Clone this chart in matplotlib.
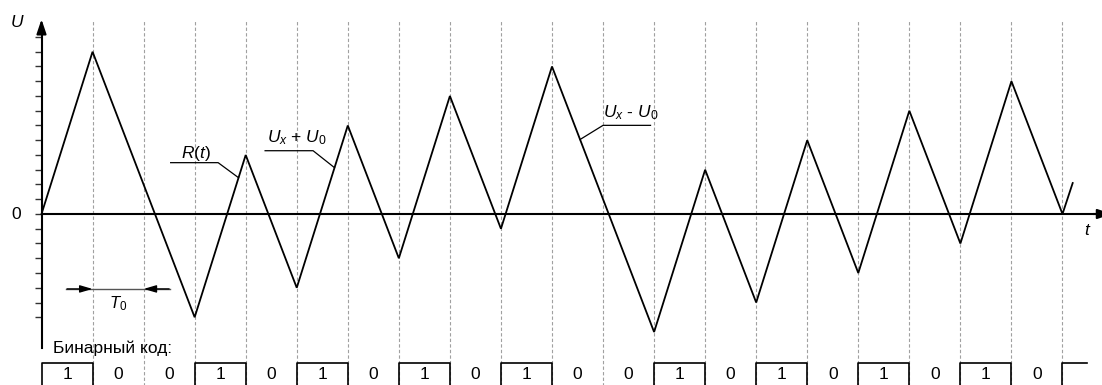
import matplotlib
matplotlib.use('Agg')
import matplotlib.pyplot as plt

plt.rcParams['font.family'] = ['Liberation Sans', 'DejaVu Sans']
plt.rcParams['mathtext.fontset'] = 'custom'
plt.rcParams['mathtext.rm'] = 'Liberation Sans'
plt.rcParams['mathtext.it'] = 'Liberation Sans:italic'

# vertices of R(t): time in T0 units, voltage in tick units
t_pts = [0, 1, 3, 4, 5, 6, 7, 8, 9, 10, 12, 13, 14, 15, 16, 17, 18, 19, 20, 20.2]
u_pts = [0, 11, -7, 4, -5, 6, -3, 8, -1, 10, -8, 3, -6, 5, -4, 7, -2, 9, 0, 2.1]

# binary code, one bit per T0 interval
bits = [1, 0, 0, 1, 0, 1, 0, 1, 0, 1, 0, 0, 1, 0, 1, 0, 1, 0, 1, 0]
tail_end = 20.48          # start of the next "1" box, cut off at the right

grid_t = list(range(1, 21))
y_ticks = list(range(-7, 13))

fig = plt.figure(figsize=(11.02, 3.85), dpi=100)
ax = fig.add_axes([0, 0, 1, 1])
ax.set_xlim(-0.813, 20.774)
ax.set_ylim(-11.593, 14.508)

# dashed clock lines
ax.vlines(grid_t, -11.7, 13.1, colors='#a0a0a0', linestyles=(0, (3, 2)), lw=0.8)

# signal
ax.plot(t_pts, u_pts, color='black', lw=1.3, solid_joinstyle='miter')

# axes through the origin
for s in ['top', 'right']:
    ax.spines[s].set_visible(False)
ax.spines['left'].set_position(('data', 0))
ax.spines['left'].set_bounds(-9.1, 12.6)
ax.spines['bottom'].set_position(('data', 0))
ax.spines['bottom'].set_bounds(0, 20.75)
ax.spines['left'].set_linewidth(1.5)
ax.spines['bottom'].set_linewidth(1.5)
ax.set_xticks([])
ax.set_yticks(y_ticks)
ax.tick_params(axis='y', direction='out', length=5, width=1.0, color='#333333', labelleft=False)

arrow = dict(arrowstyle='-|>,head_length=0.86,head_width=0.29', color='black', lw=1.5,
             shrinkA=0, shrinkB=0)
ax.annotate('', xy=(0, 13.2), xytext=(0, 12.4), arrowprops=arrow)
ax.annotate('', xy=(20.97, 0), xytext=(20.6, 0), arrowprops=arrow, annotation_clip=False)

ax.text(-0.48, 12.68, 'U', fontsize=12.5, fontstyle='italic', ha='center', va='baseline')
ax.text(-0.49, -0.37, '0', fontsize=12.5, ha='center', va='baseline')
ax.text(20.48, -1.42, 't', fontsize=12.5, fontstyle='italic', ha='center', va='baseline')

# T0 marker
ax.plot([0.48, 2.52], [-5.08, -5.08], color='#555555', lw=1.0)
small = dict(arrowstyle='-|>,head_length=0.75,head_width=0.22', color='black', lw=1.0,
             shrinkA=0, shrinkB=0)
ax.annotate('', xy=(1, -5.08), xytext=(0.5, -5.08), arrowprops=small)
ax.annotate('', xy=(2, -5.08), xytext=(2.5, -5.08), arrowprops=small)
ax.text(1.5, -6.37, r'$T_0$', fontsize=12, ha='center', va='baseline')

# leader lines and labels
ax.plot([2.53, 3.46, 3.86], [3.48, 3.48, 2.46], color='black', lw=0.9)
ax.text(2.73, 3.83, r'$R(t)$', fontsize=12.5, ha='left', va='baseline')
ax.plot([4.38, 5.32, 5.74], [4.29, 4.29, 3.14], color='black', lw=0.9)
ax.text(4.41, 4.83, r'$U_x$ + $U_0$', fontsize=12.5, ha='left', va='baseline')
ax.plot([11.93, 11.0, 10.55], [6.01, 6.01, 5.05], color='black', lw=0.9)
ax.text(11.0, 6.53, r'$U_x$ - $U_0$', fontsize=12.5, ha='left', va='baseline')

# binary code row
ax.text(0.225, -9.44, 'Бинарный код:', fontsize=12.5, ha='left', va='baseline')
for i, b in enumerate(bits):
    if b == 1:
        ax.plot([i, i, i + 1, i + 1], [-11.7, -10.1, -10.1, -11.7], color='black', lw=1.2)
    ax.text(i + 0.5, -10.9, str(b), fontsize=12.5, ha='center', va='center')
ax.plot([20, 20, tail_end], [-11.7, -10.1, -10.1], color='black', lw=1.2)

fig.savefig('out.png', dpi=100)
